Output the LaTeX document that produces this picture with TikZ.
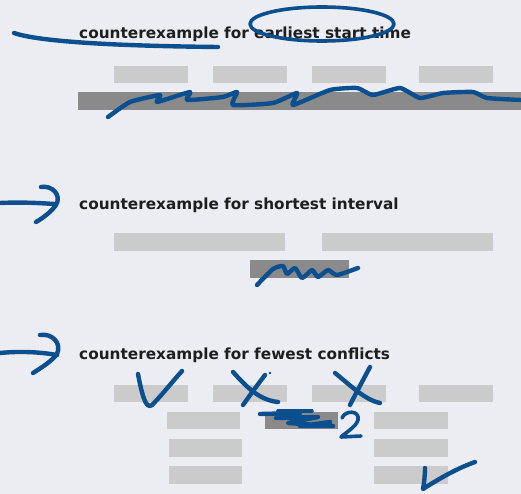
\documentclass[tikz,border=0pt]{standalone}
\usepackage{fontspec}
\setsansfont{DejaVu Sans}
\definecolor{bgc}{HTML}{ECEDF2}
\definecolor{lightbar}{HTML}{CBCBCB}
\definecolor{darkbar}{HTML}{8A8A8A}
\definecolor{inkblue}{HTML}{0B4F8F}
\definecolor{textc}{HTML}{1E1E1E}
\begin{document}
\begin{tikzpicture}[x=1pt,y=-1pt,
  title/.style={anchor=base west, inner sep=0pt, font=\sffamily\bfseries\fontsize{15.3}{17}\selectfont, text=textc},
  lbar/.style={fill=lightbar},
  dbar/.style={fill=darkbar},
  ink/.style={draw=inkblue, line width=4.4pt, line cap=round, line join=round},
]
\fill[bgc] (0,0) rectangle (521,494);
\useasboundingbox (0,0) rectangle (521,494);

% section 1
\node[title] (t1) at (79,39) {counterexample for earliest start time};
\fill[lbar] (114,66) rectangle (188,83);
\fill[lbar] (213,66) rectangle (287,83);
\fill[lbar] (312,66) rectangle (386,83);
\fill[lbar] (419,66) rectangle (493,83);
\fill[dbar] (78,92) rectangle (521,110);

% section 2
\node[title] (t2) at (79,209) {counterexample for shortest interval};
\fill[lbar] (114,233) rectangle (285,251);
\fill[lbar] (322,233) rectangle (493,251);
\fill[dbar] (250,260) rectangle (349,278);

% section 3
\node[title] (t3) at (79,359) {counterexample for fewest conflicts};
\fill[lbar] (114,385) rectangle (188,402);
\fill[lbar] (213,385) rectangle (287,402);
\fill[lbar] (312,385) rectangle (386,402);
\fill[lbar] (419,385) rectangle (493,402);
\fill[lbar] (167,412) rectangle (240,429);
\fill[dbar] (265,412) rectangle (338,429);
\fill[lbar] (374,412) rectangle (448,429);
\fill[lbar] (169,439) rectangle (242,457);
\fill[lbar] (374,439) rectangle (448,457);
\fill[lbar] (169,466) rectangle (242,484);
\fill[lbar] (374,466) rectangle (448,484);

% annotations section 1
\draw[ink] (14,33) .. controls (40,42) and (120,46) .. (218,47);
\draw[ink, line width=3.6pt] (322,24) ellipse [x radius=72pt, y radius=17pt];
\draw[ink] plot[smooth, tension=0.3] coordinates {(108,117) (130,102) (160,95) (157,102) (190,92) (187,100) (223,97) (237,92) (233,105) (273,103) (297,93) (293,105) (330,90) (357,88) (373,95) (400,88) (420,98) (443,93) (473,92) (487,98) (521,100)};

% annotations section 2
\draw[ink] (0,203) .. controls (20,202) and (40,203) .. (54,204);
\draw[ink] (41,187) .. controls (52,185) and (62,195) .. (56,205) .. controls (51,212) and (43,218) .. (36,222);
\draw[ink] plot[smooth, tension=0.35] coordinates {(257,285) (273,269) (283,266) (287,274) (295,268) (302,278) (312,270) (318,277) (328,270) (337,275) (358,268)};

% annotations section 3
\draw[ink] (0,353) .. controls (20,351) and (40,352) .. (57,355);
\draw[ink] (40,335) .. controls (52,333) and (62,343) .. (57,354) .. controls (52,361) and (41,368) .. (33,373);
\draw[ink] (138,374) .. controls (142,395) and (146,410) .. (152,405) .. controls (162,395) and (172,382) .. (182,371);
\draw[ink] (233,372) .. controls (245,385) and (258,400) .. (278,402);
\draw[ink] (265,375) .. controls (255,388) and (248,398) .. (243,405);
\fill[inkblue] (270,373) circle (1.3pt);
\draw[ink] (335,373) .. controls (350,385) and (365,400) .. (380,403);
\draw[ink] (370,367) .. controls (362,382) and (355,395) .. (350,405);
\draw[ink] (260,414) -- (300,413) -- (276,418) -- (318,417) -- (288,423) -- (333,426) -- (300,426) -- (330,422);
\draw[ink, line width=3.6pt] (278,411) -- (312,411);
\draw[ink, line width=3.6pt] (342,418) .. controls (345,410) and (360,410) .. (358,420) .. controls (356,427) and (345,433) .. (341,437) -- (361,436);
\draw[ink] (425,468) .. controls (425,475) and (424,484) .. (423,489) .. controls (440,478) and (458,468) .. (475,462);
\end{tikzpicture}
\end{document}
